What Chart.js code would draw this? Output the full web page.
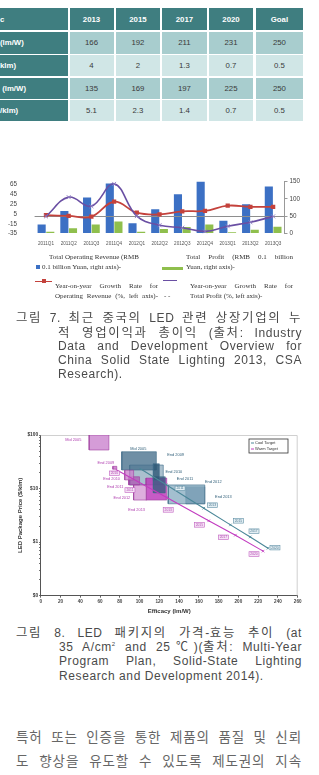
<!DOCTYPE html>
<html lang="ko"><head><meta charset="utf-8">
<script src="https://cdn.jsdelivr.net/npm/chart.js@4.4.1/dist/chart.umd.min.js"></script>
<style>
html,body{margin:0;padding:0;background:#fff;}
body{width:319px;height:775px;overflow:hidden;position:relative;font-family:"Liberation Sans",Arial,sans-serif;}
.cell{position:absolute;display:flex;align-items:center;font-size:7.8px;color:#3a3a3a;box-sizing:border-box;white-space:nowrap;overflow:hidden;}
.cap{position:absolute;white-space:nowrap;font-family:"Liberation Sans","Noto Sans CJK KR",sans-serif;color:#4a4a4a;font-size:12px;line-height:14px;height:14px;text-align:justify;text-align-last:justify;letter-spacing:0.6px;}
.k{font-family:"Noto Sans CJK KR",sans-serif;font-size:12.4px;letter-spacing:1.7px;}
.body{position:absolute;white-space:nowrap;font-family:"Noto Sans CJK KR",sans-serif;color:#666;font-size:13.5px;line-height:18px;height:18px;text-align:justify;text-align-last:justify;letter-spacing:0.9px;}
.lg{position:absolute;white-space:nowrap;font-family:"Liberation Serif","Times New Roman",serif;font-size:7px;line-height:8px;height:8px;color:#333;}
.j{text-align:justify;text-align-last:justify;}
.mk{position:absolute;}
</style></head>
<body>
<div id="tbl"></div>

<canvas id="c1" width="319" height="95" style="position:absolute;left:0;top:160px;width:319px;height:95px;"></canvas>

<div id="legend7"></div>

<div class="cap" style="left:16px;width:286px;top:310px;"><span class="k">그림</span> 7. <span class="k">최근</span> <span class="k">중국의</span> LED <span class="k">관련</span> <span class="k">상장기업의</span> <span class="k">누</span></div>
<div class="cap" style="left:58px;width:244px;top:324.5px;"><span class="k">적</span> <span class="k">영업이익과</span> <span class="k">총이익</span> (<span class="k">출처</span>: Industry</div>
<div class="cap" style="left:58px;width:244px;top:339px;">Data and Development Overview for</div>
<div class="cap" style="left:58px;width:244px;top:353px;">China Solid State Lighting 2013, CSA</div>
<div class="cap" style="left:58px;top:367px;text-align:left;text-align-last:left;">Research).</div>

<canvas id="c2" width="319" height="192" style="position:absolute;left:0;top:425px;width:319px;height:192px;"></canvas>

<div class="cap" style="left:16px;width:286px;top:624.5px;"><span class="k">그림</span> 8. LED <span class="k">패키지의</span> <span class="k">가격</span>-<span class="k">효능</span> <span class="k">추이</span> (at</div>
<div class="cap" style="left:59px;width:243px;top:639px;">35 A/cm<sup style="font-size:6px;line-height:0;">2</sup> and 25℃)(<span class="k">출처</span>: Multi-Year</div>
<div class="cap" style="left:59px;width:243px;top:653.5px;">Program Plan, Solid-State Lighting</div>
<div class="cap" style="left:59px;top:668.5px;text-align:left;text-align-last:left;">Research and Development 2014).</div>

<div class="body" style="left:16px;width:286px;top:727px;">특허 또는 인증을 통한 제품의 품질 및 신뢰</div>
<div class="body" style="left:16px;width:286px;top:751px;">도 향상을 유도할 수 있도록 제도권의 지속</div>
<div class="body" style="left:16px;width:286px;top:775px;">적인 관리와 지원이 필요하며 또한 국제적인</div>

<script>
// ---------- Table data ----------
const tableCorner = 'c';
const tableColumns = ['2013', '2015', '2017', '2020', 'Goal'];
const tableRowLabels = ['(lm/W)', 'klm)', ' (lm/W)', '/klm)'];
const coolEfficacy = [166, 192, 211, 231, 250];
const coolPrice = [4, 2, 1.3, 0.7, 0.5];
const warmEfficacy = [135, 169, 197, 225, 250];
const warmPrice = [5.1, 2.3, 1.4, 0.7, 0.5];

// ---------- Figure 7 data ----------
const quarters = ['2011Q1','2011Q2','2011Q3','2011Q4','2012Q1','2012Q2','2012Q3','2012Q4','2013Q1','2013Q2','2013Q3'];
const operatingRevenue = [26, 65, 104, 144, 30, 70, 113, 150, 37, 84, 135];
const totalProfit = [5.5, 15.5, 26, 35, 5.5, 13, 19, 26, 4, 11, 20];
const revenueGrowth = [2.4, 0.9, -0.6, 29.7, 7.4, 4, 10.3, 11.1, 21.7, 19.3, 19.3];
const profitGrowth = [0, 39, 20.7, 66, 0.5, -18, -23, -30.5, -20, -12, 0];
const leftAxisTicks = [-35, -15, 5, 25, 45, 65];
const rightAxisTicks = [0, 50, 100, 150];

// ---------- Figure 8 data ----------
const efficacyTicks = [0,20,40,60,80,100,120,140,160,180,200,220,240,260];
const priceTicks = [0.1, 1, 10, 100];
const priceTickLabels = ['$0', '$1', '$10', '$100'];

const coolBoxNames = ['Mid 2005', 'End 2010', 'End 2009', 'End 2011', 'End 2012', 'End 2013'];
const coolEffMin   = [82, 90, 114, 114, 129, 147];
const coolEffMax   = [117, 124, 120, 126, 166, 166];
const coolPriceMin = [22.2, 11.7, 14.4, 8.3, 5.2, 5.2];
const coolPriceMax = [48.7, 27.5, 29, 16.6, 11.7, 10.8];

const warmBoxNames = ['Mid 2005', 'End 2009', 'End 2010', 'End 2011', 'End 2012', 'End 2013'];
const warmEffMin   = [49, 73, 85, 89, 94, 106.5];
const warmEffMax   = [69, 77, 94, 100, 107, 127.5];
const warmPriceMin = [52.5, 23, 14.5, 11.7, 6.1, 6.1];
const warmPriceMax = [100, 26, 22, 16.6, 11.7, 15.7];

const coolTargetEff   = [100, 127.4, 165, 192, 212, 230];
const coolTargetPrice = [24, 11.7, 4.3, 2.1, 1.25, 0.77];
const warmTargetEff   = [76, 127.5, 170, 197, 225];
const warmTargetPrice = [22.6, 6.8, 2.5, 1.35, 0.68];

const coolNameEff   = [98.8, 136.5, 134.8, 146, 174.6, 184.8];
const coolNamePrice = [54.8, 42.4, 20.6, 15.1, 13.3, 6.9];
const coolNameText  = ['Mid 2005', 'End 2009', 'End 2010', 'End 2011', 'End 2012', 'End 2013'];
const warmNameEff   = [33, 66, 71.8, 75.5, 82.2, 97.1];
const warmNamePrice = [80.7, 30.4, 14.9, 10.6, 6.7, 4.0];
const warmNameText  = ['Mid 2005', 'End 2009', 'End 2010', 'End 2011', 'End 2012', 'End 2013'];

const coolYearTags  = ['2011', '2013', '2015', '2017', '2020'];
const coolTagEff    = [141, 173.6, 200, 215.8, 237];
const coolTagPrice  = [10.1, 4.9, 2.5, 1.6, 0.79];
const warmYearTags  = ['2010', '2011', '2013', '2015', '2017', '2020'];
const warmTagEff    = [74.5, 90.3, 129, 160.5, 184.8, 215.8];
const warmTagPrice  = [19.3, 9.4, 4.0, 2.1, 1.23, 0.6];

const targetLegend = ['Cool Target', 'Warm Target'];

// ---------- Build table ----------
(function(){
  const tbl = document.getElementById('tbl');
  const colX = [[0,67.5],[69.5,113.5],[115.8,160],[162.3,206.6],[208.9,253.2],[255.5,303.3]];
  const rowY = [[8.3,30],[32.3,53.6],[55.3,76.3],[77.6,98.6],[100.3,121]];
  const dark = '#3f7e80', mid = '#a8cdce', light = '#d0e6e6';
  const rows = [coolEfficacy, coolPrice, warmEfficacy, warmPrice];
  function cell(txt, c, r, bg, color, bold, align){
    const d = document.createElement('div');
    d.className = 'cell';
    d.style.left = colX[c][0]+'px'; d.style.width = (colX[c][1]-colX[c][0])+'px';
    d.style.top = rowY[r][0]+'px'; d.style.height = (rowY[r][1]-rowY[r][0])+'px';
    d.style.background = bg; d.style.color = color;
    d.style.fontWeight = bold ? 'bold' : 'normal';
    d.style.justifyContent = align;
    d.style.whiteSpace = 'pre';
    d.textContent = txt;
    tbl.appendChild(d);
  }
  cell(tableCorner, 0, 0, dark, '#fff', true, 'flex-start');
  tableColumns.forEach((t,i)=>cell(t, i+1, 0, dark, '#fff', true, 'center'));
  tableRowLabels.forEach((t,r)=>{
    cell(t, 0, r+1, dark, '#fff', true, 'flex-start');
    rows[r].forEach((v,i)=>cell(String(v), i+1, r+1, (r%2===0)?mid:light, '#3a3a3a', false, 'center'));
  });
})();

// ---------- Figure 7 legend (HTML text) ----------
(function(){
  const L = document.getElementById('legend7');
  function txt(t, left, top, width){
    const d = document.createElement('div');
    d.className = 'lg' + (width ? ' j' : '');
    d.style.left = left+'px'; d.style.top = top+'px';
    if (width) d.style.width = width+'px';
    d.textContent = t; L.appendChild(d);
  }
  function box(left, top, w, h, color){
    const d = document.createElement('div');
    d.className = 'mk';
    d.style.cssText += `left:${left}px;top:${top}px;width:${w}px;height:${h}px;background:${color};`;
    L.appendChild(d);
  }
  box(35.5, 264.5, 4, 4, '#3c70c4');
  txt('Total Operating Revenue (RMB', 49, 252.5);
  txt('0.1 billion Yuan, right axis)-', 42, 263);
  box(162, 266.5, 21, 3.5, '#8fbf4d');
  txt('Total Profit (RMB 0.1 billion', 186, 252.5, 107);
  txt('Yuan, right axis)-', 186, 263);
  box(35, 280.5, 17, 1.6, '#c4423c');
  box(41.5, 279.3, 4, 4, '#c4423c');
  txt('Year-on-year Growth Rate for', 55, 282, 103);
  txt('Operating Revenue (%, left axis)-', 55, 291.5, 103);
  txt('-    -', 164, 291.5);
  box(163, 280, 14, 1.4, '#6a4fa3');
  txt('Year-on-year Growth Rate for', 190, 282, 103);
  txt('Total Profit (%, left axis)-', 190, 291.5);
})();

Chart.defaults.font.family = '"Liberation Sans", Arial, sans-serif';

// ---------- Figure 7 chart ----------
const zeroLinePlugin = {
  id: 'zeroLine',
  afterDatasetDraw(chart, args) {
    if (args.index !== 2) return;
    const {ctx, chartArea, scales} = chart;
    const y = Math.round(scales.y.getPixelForValue(0)) + 0.5;
    ctx.save();
    ctx.strokeStyle = '#8e8e8e'; ctx.lineWidth = 1;
    ctx.beginPath(); ctx.moveTo(chartArea.left, y); ctx.lineTo(chartArea.right, y); ctx.stroke();
    ctx.restore();
  }
};

new Chart(document.getElementById('c1'), {
  type: 'bar',
  data: {
    labels: quarters,
    datasets: [
      {type: 'line', label: 'Year-on-year Growth Rate for Operating Revenue (%, left axis)', data: revenueGrowth, yAxisID: 'y',
       borderColor: '#c4423c', backgroundColor: '#c4423c', borderWidth: 1.8, pointStyle: 'rect', pointRadius: 3, pointBorderWidth: 0,
       tension: 0.4, order: 1},
      {type: 'line', label: 'Year-on-year Growth Rate for Total Profit (%, left axis)', data: profitGrowth, yAxisID: 'y',
       borderColor: '#6a4fa3', backgroundColor: '#6a4fa3', pointBorderColor: '#8d7cc4', borderWidth: 1.6, pointStyle: 'crossRot',
       pointRadius: 2.8, pointBorderWidth: 0.9, tension: 0.4, order: 0},
      {label: 'Total Operating Revenue (RMB 0.1 billion Yuan, right axis)', data: operatingRevenue, yAxisID: 'y1',
       backgroundColor: '#3c70c4', barPercentage: 0.94, categoryPercentage: 0.76, order: 2},
      {label: 'Total Profit (RMB 0.1 billion Yuan, right axis)', data: totalProfit, yAxisID: 'y1',
       backgroundColor: '#8fbf4d', barPercentage: 0.94, categoryPercentage: 0.76, order: 2}
    ]
  },
  options: {
    responsive: false, animation: false, devicePixelRatio: 1,
    layout: {padding: {top: 5, left: 0, right: 0, bottom: 0}},
    plugins: {legend: {display: false}, tooltip: {enabled: false}},
    scales: {
      x: {offset: true, grid: {display: false, drawTicks: false}, border: {display: false},
          ticks: {font: {size: 4.6}, color: '#555', padding: 7, maxRotation: 0, autoSkip: false},
          afterFit(s){ s.height = 16; }},
      y: {position: 'left', min: -35, max: 71,
          afterBuildTicks(s){ s.ticks = leftAxisTicks.map(v => ({value: v})); },
          grid: {display: false, drawTicks: false}, border: {display: false},
          ticks: {font: {size: 6.3}, color: '#444', padding: 17.6},
          afterFit(s){ s.width = 34.6; }},
      y1: {position: 'right', min: 0, max: 150,
          afterBuildTicks(s){ s.ticks = rightAxisTicks.map(v => ({value: v})); },
          grid: {drawOnChartArea: false, drawTicks: true, tickLength: 3, color: '#999'},
          border: {display: true, color: '#999', width: 1},
          ticks: {font: {size: 6.3}, color: '#444', padding: 2},
          afterFit(s){ s.width = 34.5; }}
    }
  },
  plugins: [zeroLinePlugin]
});

// ---------- Figure 8 chart ----------
function rectPoints(x0, x1, y0, y1){
  return [{x:x0,y:y0},{x:x1,y:y0},{x:x1,y:y1},{x:x0,y:y1},{x:x0,y:y0}];
}
const coolFill = ['rgba(70,112,140,0.78)','rgba(100,140,165,0.55)','rgba(45,88,118,0.8)','rgba(50,95,125,0.75)','rgba(140,175,195,0.8)','rgba(60,100,130,0.88)'];
const warmFill = ['rgba(208,145,212,0.9)','rgba(200,120,200,0.85)','rgba(205,130,205,0.8)','rgba(175,70,175,0.65)','rgba(215,160,215,0.85)','rgba(185,55,185,0.82)'];

const boxSets = [];
coolBoxNames.forEach((n,i)=>{
  if (i >= 2 && i <= 3) return;
  boxSets.push({label: 'Cool ' + n, data: rectPoints(coolEffMin[i], coolEffMax[i], coolPriceMin[i], coolPriceMax[i]),
    showLine: true, fill: 'shape', backgroundColor: coolFill[i], borderColor: '#3d6a86', borderWidth: 0.6, pointRadius: 0, order: 5});
});
warmBoxNames.forEach((n,i)=>{
  boxSets.push({label: 'Warm ' + n, data: rectPoints(warmEffMin[i], warmEffMax[i], warmPriceMin[i], warmPriceMax[i]),
    showLine: true, fill: 'shape', backgroundColor: warmFill[i], borderColor: '#a03ca0', borderWidth: 0.6, pointRadius: 0, order: 4});
});
[2,3].forEach(i=>{
  boxSets.push({label: 'Cool ' + coolBoxNames[i], data: rectPoints(coolEffMin[i], coolEffMax[i], coolPriceMin[i], coolPriceMax[i]),
    showLine: true, fill: 'shape', backgroundColor: coolFill[i], borderColor: '#3d6a86', borderWidth: 0.6, pointRadius: 0, order: 3});
});
boxSets.push({label: targetLegend[0], data: coolTargetEff.map((x,i)=>({x, y: coolTargetPrice[i]})), showLine: true, fill: false,
  borderColor: '#4a8798', backgroundColor: '#4a8798', borderWidth: 1.1, pointStyle: 'crossRot',
  pointRadius: ctx => (ctx.dataIndex === 0 ? 0 : 1.8), pointBorderWidth: 0.8, order: 1});
boxSets.push({label: targetLegend[1], data: warmTargetEff.map((x,i)=>({x, y: warmTargetPrice[i]})), showLine: true, fill: false,
  borderColor: '#c23cc0', backgroundColor: '#c23cc0', borderWidth: 1.1, pointStyle: 'crossRot',
  pointRadius: ctx => (ctx.dataIndex === 0 ? 0 : 1.8), pointBorderWidth: 0.8, order: 1});

const fig8Decor = {
  id: 'fig8Decor',
  beforeDatasetsDraw(chart){
    const {ctx, chartArea: a} = chart;
    ctx.save();
    ctx.strokeStyle = '#c4c4c4'; ctx.lineWidth = 0.8;
    ctx.beginPath(); ctx.moveTo(a.left, a.top + 0.5); ctx.lineTo(a.right - 0.5, a.top + 0.5); ctx.lineTo(a.right - 0.5, a.bottom); ctx.stroke();
    ctx.restore();
  },
  afterDatasetsDraw(chart){
    const {ctx, chartArea: a, scales: {x, y}} = chart;
    ctx.save();
    ctx.textAlign = 'center'; ctx.textBaseline = 'middle';
    ctx.font = '3.9px "Liberation Sans", Arial';
    coolNameText.forEach((t,i)=>{ ctx.fillStyle = '#2f5e78'; ctx.fillText(t, x.getPixelForValue(coolNameEff[i]), y.getPixelForValue(coolNamePrice[i])); });
    warmNameText.forEach((t,i)=>{ ctx.fillStyle = '#b040b0'; ctx.fillText(t, x.getPixelForValue(warmNameEff[i]), y.getPixelForValue(warmNamePrice[i])); });
    ctx.font = '3.3px "Liberation Sans", Arial';
    function tag(t, e, p, stroke, fill, col){
      const px = x.getPixelForValue(e), py = y.getPixelForValue(p);
      ctx.fillStyle = fill; ctx.fillRect(px - 5, py - 2.3, 10, 4.6);
      ctx.strokeStyle = stroke; ctx.lineWidth = 0.6; ctx.strokeRect(px - 5, py - 2.3, 10, 4.6);
      ctx.fillStyle = col; ctx.fillText(t, px, py + 0.2);
    }
    coolYearTags.forEach((t,i)=>tag(t, coolTagEff[i], coolTagPrice[i], '#5f8fa5', '#e3eef3', '#4b7890'));
    warmYearTags.forEach((t,i)=>tag(t, warmTagEff[i], warmTagPrice[i], '#c060c0', '#f6e3f6', '#b048b0'));
    // legend box
    const lw = 39, lh = 14, lx = a.right - 9.7 - lw, ly = a.top + 4;
    ctx.fillStyle = '#fff'; ctx.fillRect(lx, ly, lw, lh);
    ctx.strokeStyle = '#333'; ctx.lineWidth = 0.8; ctx.strokeRect(lx, ly, lw, lh);
    ctx.textAlign = 'left'; ctx.font = '4px "Liberation Sans", Arial';
    const cols = ['#4a8798', '#c23cc0'];
    targetLegend.forEach((t,i)=>{
      const yy = ly + 4 + i * 6;
      ctx.strokeStyle = cols[i]; ctx.lineWidth = 1; ctx.beginPath(); ctx.moveTo(lx + 2, yy); ctx.lineTo(lx + 5, yy); ctx.stroke();
      ctx.fillStyle = '#333'; ctx.fillText(t, lx + 6, yy + 0.2);
    });
    ctx.restore();
  }
};

const priceMinorTicks = [];
[0.1, 1, 10].forEach(d => { for (let k = 1; k <= 9; k++) priceMinorTicks.push(+(d * k).toPrecision(6)); });
priceMinorTicks.push(100);

new Chart(document.getElementById('c2'), {
  type: 'scatter',
  data: {datasets: boxSets},
  options: {
    responsive: false, animation: false, devicePixelRatio: 1,
    layout: {padding: {top: 10, right: 21.3, left: 0, bottom: 0}},
    plugins: {legend: {display: false}, tooltip: {enabled: false}},
    scales: {
      x: {type: 'linear', min: 0, max: 260,
          afterBuildTicks(s){ s.ticks = efficacyTicks.map(v => ({value: v})); },
          grid: {drawOnChartArea: false, drawTicks: true, tickLength: 2, color: '#666'},
          border: {color: '#555', width: 1},
          ticks: {font: {size: 4.6, weight: 'bold'}, color: '#444', padding: 1.5, maxRotation: 0, autoSkip: false},
          title: {display: true, text: 'Efficacy (lm/W)', font: {size: 6, weight: 'bold'}, color: '#333', padding: {top: 0, bottom: 2.4}},
          afterFit(s){ s.height = 21.3; }},
      y: {type: 'logarithmic', min: 0.1, max: 100,
          afterBuildTicks(s){ s.ticks = priceMinorTicks.map(v => ({value: v})); },
          grid: {drawOnChartArea: false, drawTicks: true, tickLength: 1.6, color: '#666'},
          border: {color: '#555', width: 1},
          ticks: {autoSkip: false, font: {size: 4.8, weight: 'bold'}, color: '#333', padding: 1,
                  callback(v){ const i = priceTicks.findIndex(p => Math.abs(p - v) < 1e-9); return i >= 0 ? priceTickLabels[i] : ''; }},
          title: {display: true, text: 'LED Package Price ($/klm)', font: {size: 6, weight: 'bold'}, color: '#333', padding: {top: 16.4, bottom: 0}},
          afterFit(s){ s.width = 40.7; }}
    }
  },
  plugins: [fig8Decor]
});
</script>
</body></html>
